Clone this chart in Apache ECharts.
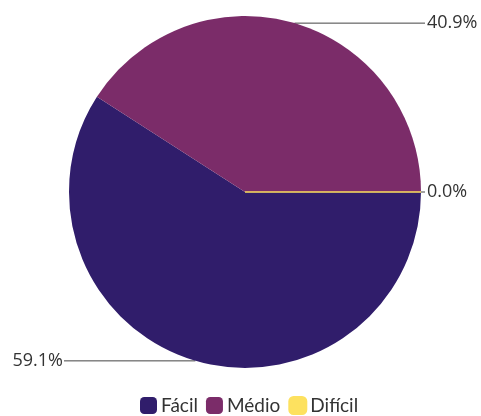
<!DOCTYPE html>
<html>
<head>
<meta charset="utf-8">
<script src="https://cdn.jsdelivr.net/npm/echarts@6/dist/echarts.min.js"></script>
<style>
html, body { margin: 0; padding: 0; background: #fff; }
#chart { width: 481px; height: 416px; }
</style>
</head>
<body>
<div id="chart"></div>
<script>
// dados
const categories = ["Fácil", "Médio", "Difícil"];
const values = [13, 9, 0];
const colors = ["#301d6b", "#7b2c69", "#fde15f"];

const centerX = 245;
const leftLineEnd = 64;
const rightLineEnd = 425;

const myChart = echarts.init(document.getElementById("chart"));
const option = {
	animation: false,
	color: colors,
	legend: {
		top: 391,
		left: 135,
		itemWidth: 17,
		itemHeight: 17,
		itemGap: 8,
		icon: "roundRect",
		textStyle: {
			fontFamily: "Lato",
			fontSize: 19,
			color: "#333",
			padding: [0, 0, 0, -1]
		},
		data: categories
	},
	series: [
		{
			type: "pie",
			center: [centerX, 192],
			radius: 176,
			startAngle: 0,
			clockwise: true,
			avoidLabelOverlap: false,
			stillShowZeroSum: true,
			data: categories.map((name, i) => ({
				name: name,
				value: values[i],
				itemStyle: values[i] === 0 ? { borderColor: colors[i], borderWidth: 1 } : {}
			})),
			itemStyle: {
				borderWidth: 0
			},
			emphasis: { disabled: true },
			label: {
				show: true,
				position: "outside",
				fontFamily: "Open Sans",
				fontSize: 18,
				color: "#333",
				formatter: (p) => p.percent.toFixed(1) + "%"
			},
			labelLine: {
				show: true,
				length: 0,
				length2: 10,
				lineStyle: { color: "#444", width: 1 }
			},
			labelLayout: function (params) {
				const pts = params.labelLinePoints;
				const isLeft = pts[0][0] < centerX - 1;
				pts[1] = [pts[0][0], pts[0][1]];
				pts[2] = [isLeft ? leftLineEnd : rightLineEnd, pts[0][1]];
				return {
					x: isLeft ? leftLineEnd - 1 : rightLineEnd + 2,
					y: pts[0][1],
					align: isLeft ? "right" : "left",
					verticalAlign: "middle",
					labelLinePoints: pts
				};
			}
		}
	]
};
myChart.setOption(option);
</script>
</body>
</html>
